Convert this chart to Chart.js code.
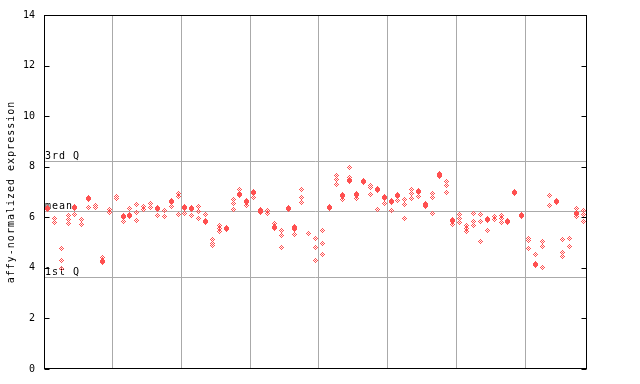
<!DOCTYPE html>
<html>
<head>
<meta charset="utf-8">
<script src="https://cdn.jsdelivr.net/npm/chart.js@4/dist/chart.umd.min.js"></script>
<style>
html,body{margin:0;padding:0;background:#fff;}
#wrap{width:640px;height:384px;}
</style>
</head>
<body>
<div id="wrap"><canvas id="c" width="640" height="384"></canvas></div>
<script>
// ---- data ----
const yTicks = [0, 2, 4, 6, 8, 10, 12, 14];
const sectionBreaks = [9.5, 19.5, 29.5, 39.5, 49.5, 59.5, 69.5];
const refValues = [8.21, 6.23, 3.63];
const refLabels = ["3rd Q", "mean", "1st Q"];
const yTitle = "affy-normalized expression";

// open (checkered) diamonds, one list per sample
const hollowSeries = [
  [], [5.94, 5.81], [4.76, 4.30, 3.97], [6.07, 5.90, 5.75], [6.10], [5.90, 5.72], [6.38], [6.47, 6.40], [4.41], [6.30, 6.17],
  [6.84, 6.76], [5.84], [6.33], [6.51, 6.17, 5.88], [6.41, 6.30], [6.56, 6.38], [6.06], [6.27, 6.04], [6.43], [6.95, 6.84, 6.10],
  [6.15], [6.08], [6.42, 6.23, 5.94], [6.10], [5.12, 4.98, 4.87], [5.66, 5.54, 5.43], [], [6.69, 6.53, 6.30], [7.09], [6.46],
  [6.80], [6.20], [6.25, 6.14], [5.75], [5.46, 5.29, 4.80], [], [5.62, 5.31], [7.10, 6.80, 6.60], [5.35], [5.16, 4.80, 4.30],
  [5.47, 4.96, 4.53], [], [7.65, 7.48, 7.30], [6.69], [7.95, 7.56], [6.73], [], [7.26, 7.16, 6.89], [6.30], [6.53],
  [6.26], [6.68], [6.69, 6.51, 5.94], [7.09, 6.93, 6.73], [6.81], [6.56], [6.93, 6.80, 6.14], [7.72], [7.43, 7.26, 6.97], [5.72],
  [6.11, 5.97, 5.79], [5.68, 5.55, 5.42], [6.14, 5.84, 5.68], [6.11, 5.84, 5.05], [5.48], [6.05, 5.92], [6.08, 5.94, 5.81], [], [], [],
  [5.16, 5.09, 4.76], [4.53], [5.05, 4.83, 4.02], [6.86, 6.47], [], [5.12, 4.60, 4.43], [5.16, 4.84], [6.33, 6.04], [6.27, 6.10, 5.84]
];
// solid diamonds, one value (or null) per sample
const filledSeries = [
  6.36, null, null, null, 6.38, null, 6.76, null, 4.24, null,
  null, 6.05, 6.06, null, null, null, 6.33, null, 6.64, null,
  6.38, 6.36, null, 5.84, null, null, 5.56, null, 6.91, 6.64,
  6.98, 6.27, null, 5.59, null, 6.33, 5.55, null, null, null,
  null, 6.38, null, 6.88, 7.47, 6.91, 7.40, null, 7.11, 6.80,
  6.64, 6.88, null, null, 7.03, 6.46, null, 7.64, null, 5.88,
  null, null, null, null, 5.93, null, null, 5.85, 6.99, 6.09,
  null, 4.15, null, null, 6.62, null, null, 6.13, null
];

const RED = '#ff5050';
const GRID = '#aaaaaa';
const MONO = '"DejaVu Sans Mono", "Liberation Mono", monospace';

function makeDiamond(filled) {
  const c = document.createElement('canvas');
  c.width = 7; c.height = 7;
  const g = c.getContext('2d');
  g.fillStyle = RED;
  for (let dy = -3; dy <= 3; dy++) {
    for (let dx = -3; dx <= 3; dx++) {
      const d = Math.abs(dx) + Math.abs(dy);
      let on;
      if (filled) on = d <= 3 && Math.abs(dx) <= 2;
      else on = d <= 2 && (d % 2 === 0);
      if (on) g.fillRect(dx + 3, dy + 3, 1, 1);
    }
  }
  return c;
}

const hollowPts = [];
hollowSeries.forEach((vals, i) => vals.forEach(v => hollowPts.push({x: i, y: v})));
const filledPts = [];
filledSeries.forEach((v, i) => { if (v !== null) filledPts.push({x: i, y: v}); });

const decor = {
  id: 'decor',
  beforeDatasetsDraw(chart) {
    const {ctx, chartArea: a, scales: {y}} = chart;
    ctx.save();
    // reference lines
    ctx.strokeStyle = GRID;
    ctx.lineWidth = 1;
    refValues.forEach(v => {
      const py = Math.round(y.getPixelForValue(v)) + 0.5;
      ctx.beginPath(); ctx.moveTo(a.left, py); ctx.lineTo(a.right, py); ctx.stroke();
    });
    // reference labels
    ctx.fillStyle = '#000';
    ctx.font = '10px ' + MONO;
    ctx.letterSpacing = '1px';
    ctx.textBaseline = 'bottom';
    ctx.textAlign = 'left';
    refValues.forEach((v, k) => {
      const py = Math.round(y.getPixelForValue(v));
      ctx.fillText(refLabels[k], a.left + 1, py);
    });
    ctx.restore();
    ctx.imageSmoothingEnabled = false;
  },
  afterDatasetsDraw(chart) {
    const {ctx, chartArea: a, scales: {y}} = chart;
    ctx.save();
    ctx.strokeStyle = '#000';
    ctx.lineWidth = 1;
    const L = Math.round(a.left) + 0.5, R = Math.round(a.right) - 0.5;
    const T = Math.round(a.top) + 0.5, B = Math.round(a.bottom) - 0.5;
    ctx.strokeRect(L, T, R - L, B - T);
    // inward tick marks on both sides
    yTicks.forEach(v => {
      const py = Math.round(y.getPixelForValue(v)) + 0.5;
      ctx.beginPath();
      ctx.moveTo(L, py); ctx.lineTo(L + 5, py);
      ctx.moveTo(R, py); ctx.lineTo(R - 5, py);
      ctx.stroke();
    });
    // y axis title
    ctx.fillStyle = '#000';
    ctx.font = '10px ' + MONO;
    ctx.letterSpacing = '1px';
    ctx.textAlign = 'center';
    ctx.textBaseline = 'middle';
    ctx.translate(11, (a.top + a.bottom) / 2);
    ctx.rotate(-Math.PI / 2);
    ctx.fillText(yTitle, 0, 0);
    ctx.restore();
  }
};

new Chart(document.getElementById('c'), {
  type: 'scatter',
  data: {
    datasets: [
      { label: 'filled', data: filledPts, pointStyle: makeDiamond(true), pointRadius: 3, order: 0 },
      { label: 'hollow', data: hollowPts, pointStyle: makeDiamond(false), pointRadius: 3, order: 1 }
    ]
  },
  options: {
    responsive: false,
    animation: false,
    devicePixelRatio: 1,
    layout: { padding: { left: 0, right: 53, top: 14, bottom: 15 } },
    plugins: { legend: { display: false }, tooltip: { enabled: false } },
    scales: {
      x: {
        type: 'linear', min: -0.5, max: 78.5,
        afterBuildTicks(s) { s.ticks = sectionBreaks.map(v => ({value: v})); },
        afterFit(s) { s.height = 0; },
        ticks: { display: false },
        grid: { color: GRID, drawTicks: false, lineWidth: 1 },
        border: { display: false }
      },
      y: {
        min: 0, max: 14,
        afterBuildTicks(s) { s.ticks = yTicks.map(v => ({value: v})); },
        afterFit(s) { s.width = 44; },
        ticks: { color: '#000', font: { family: MONO, size: 10 }, padding: 9 },
        grid: { display: false, drawTicks: false },
        border: { display: false }
      }
    }
  },
  plugins: [decor]
});
</script>
</body>
</html>
